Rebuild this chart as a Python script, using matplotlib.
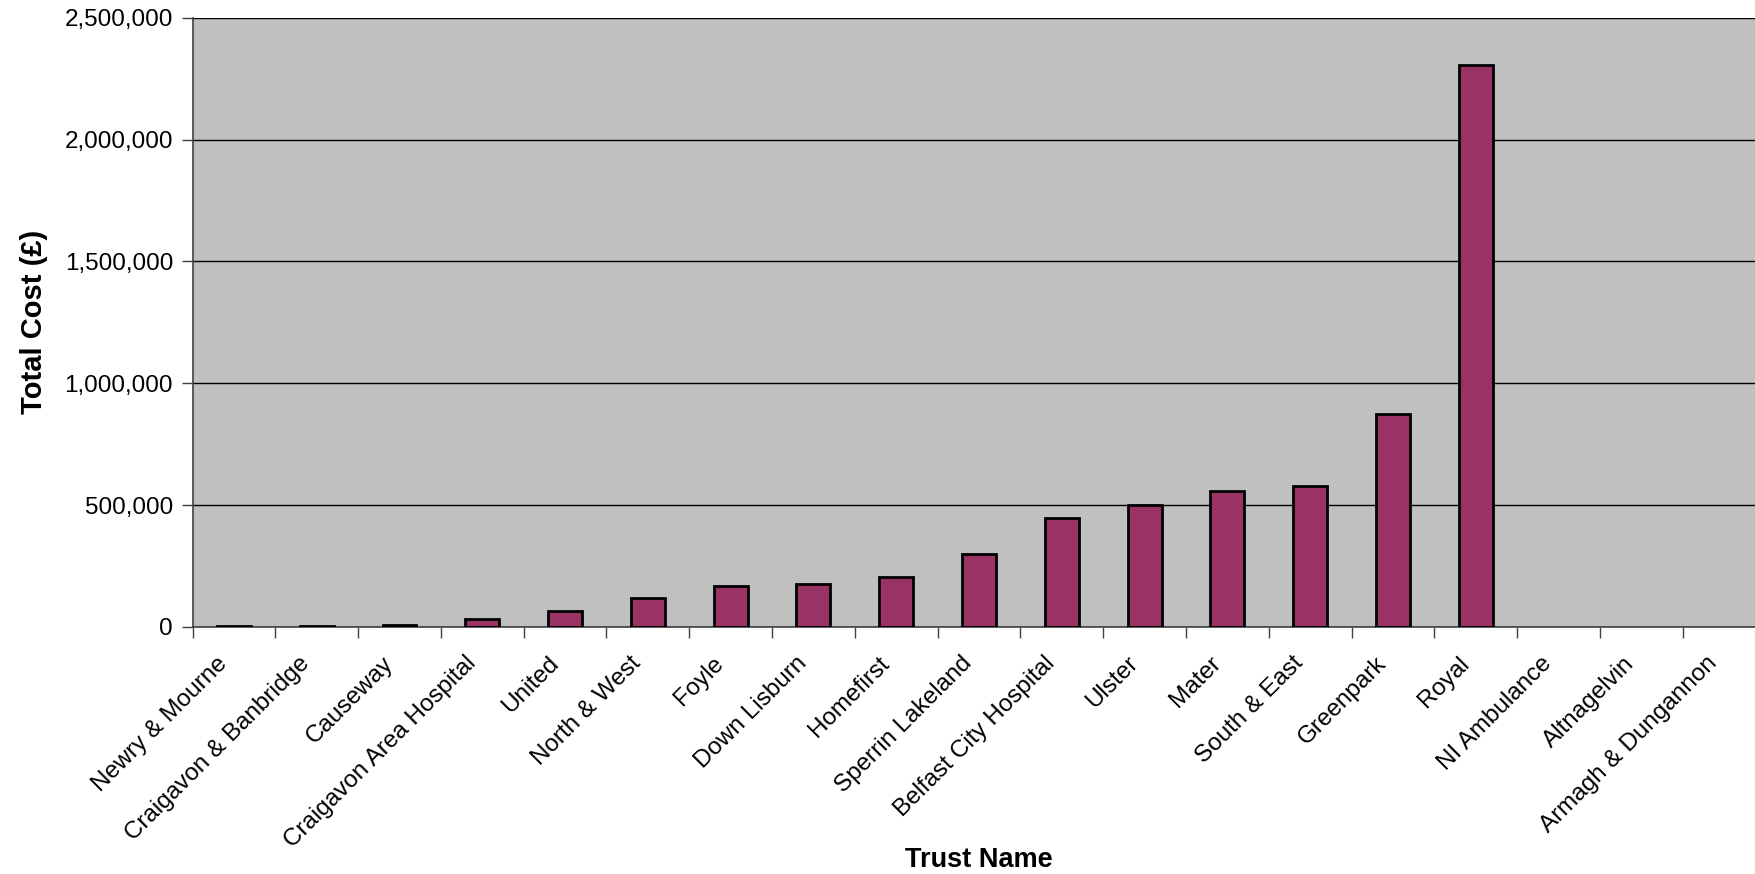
import numpy as np
import matplotlib
matplotlib.use("Agg")
import matplotlib.pyplot as plt
from matplotlib.ticker import FuncFormatter, FixedLocator

trusts = ["Newry & Mourne", "Craigavon & Banbridge", "Causeway", "Craigavon Area Hospital",
          "United", "North & West", "Foyle", "Down Lisburn", "Homefirst", "Sperrin Lakeland",
          "Belfast City Hospital", "Ulster", "Mater", "South & East", "Greenpark", "Royal",
          "NI Ambulance", "Altnagelvin", "Armagh & Dungannon"]
total_cost = [3000, 4000, 9000, 31000, 64000, 118000, 166000, 175000, 205000, 300000,
              447000, 500000, 558000, 580000, 873000, 2305000, 0, 0, 0]
y_ticks = [0, 500000, 1000000, 1500000, 2000000, 2500000]

plt.rcParams['font.family'] = ['Liberation Sans', 'DejaVu Sans']

fig = plt.figure(figsize=(17.55, 8.74), dpi=100)
# plot area runs a little past the right edge, as in the original export
ax = fig.add_axes([192.5 / 1755, (874 - 626.8) / 874, 1573 / 1755, 608.9 / 874])
ax.set_facecolor("#C0C0C0")

x = np.arange(len(trusts))
edge_w = [2 if v > 0 else 0 for v in total_cost]
ax.bar(x, total_cost, width=0.41, color="#993366", edgecolor="black", linewidth=edge_w, zorder=3)

ax.set_xlim(-0.5, len(trusts) - 0.5)
ax.set_ylim(0, 2500000)
ax.set_yticks(y_ticks)
ax.yaxis.set_major_formatter(FuncFormatter(lambda v, p: "{:,.0f}".format(v)))
ax.grid(axis="y", color="black", linewidth=1, zorder=1)
ax.set_axisbelow(True)

# ticks at category boundaries, labels just left of the centres
ax.xaxis.set_major_locator(FixedLocator(np.arange(-0.5, len(trusts), 1)))
ax.xaxis.set_minor_locator(FixedLocator(x - 0.12))
ax.set_xticklabels([])
ax.set_xticklabels(trusts, minor=True, rotation=45, ha="right", va="center",
                   rotation_mode="anchor", fontsize=17.5)
ax.tick_params(axis="x", which="minor", length=0, pad=24)
ax.tick_params(axis="x", which="major", length=8, width=1, color="#404040", direction="out")
ax.tick_params(axis="y", length=8, width=1, color="#404040", labelsize=17.5, pad=6)

for s in ["top", "right"]:
    ax.spines[s].set_visible(False)
ax.spines["left"].set_color("#404040")
ax.spines["bottom"].set_color("#404040")
ax.spines["left"].set_linewidth(1.2)
ax.spines["bottom"].set_linewidth(1.2)

ax.set_ylabel("Total Cost (£)", fontsize=21, fontweight="bold", labelpad=12)
fig.text(0.558, 0.016, "Trust Name", fontsize=19.5, fontweight="bold", ha="center", va="center")

fig.savefig("out.png", dpi=100, facecolor="white")
